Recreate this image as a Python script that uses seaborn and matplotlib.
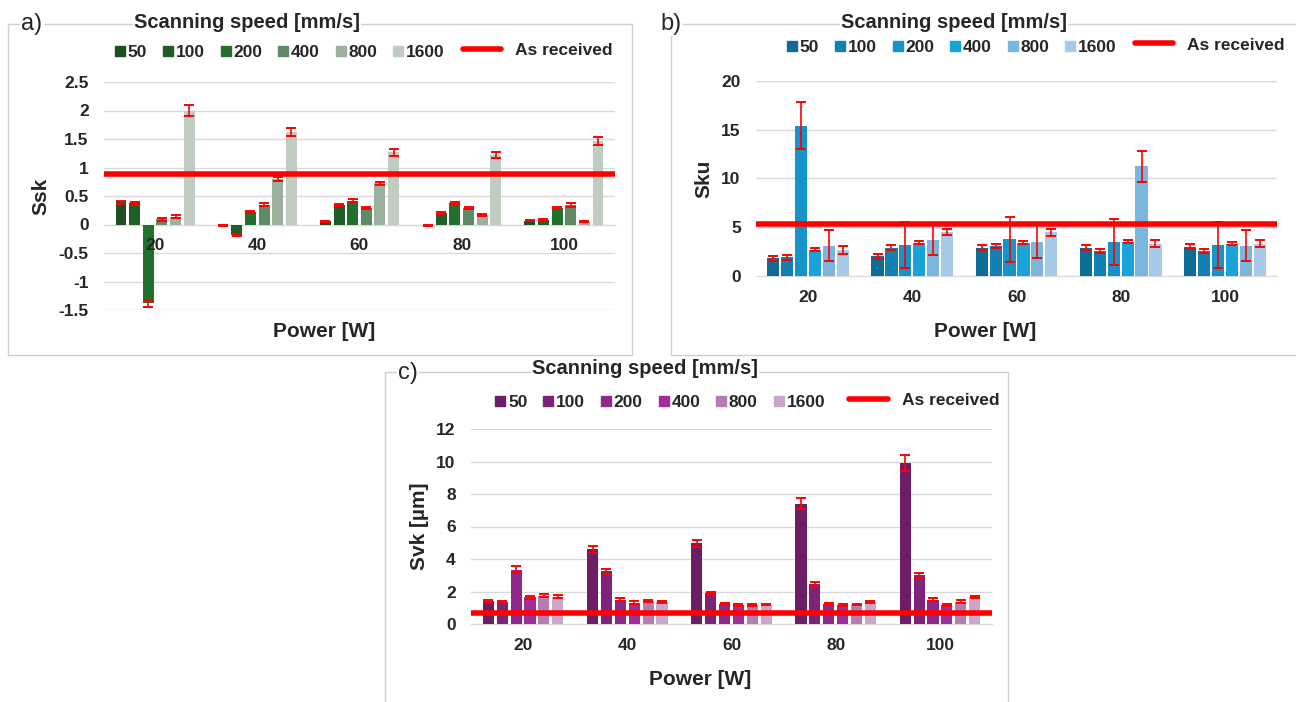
import pandas as pd
import seaborn as sns
import matplotlib.pyplot as plt
from matplotlib.lines import Line2D
from matplotlib.patches import Rectangle

power = [20, 40, 60, 80, 100]
speeds = ['50', '100', '200', '400', '800', '1600']

# rows = power, columns = scanning speed
ssk = [[0.39, 0.37, -1.38, 0.09, 0.14, 2.00],
       [-0.01, -0.19, 0.22, 0.35, 0.80, 1.62],
       [0.06, 0.34, 0.42, 0.29, 0.72, 1.27],
       [-0.01, 0.20, 0.37, 0.29, 0.17, 1.22],
       [0.07, 0.08, 0.29, 0.34, 0.05, 1.46]]
ssk_err = [[0.03, 0.03, 0.06, 0.02, 0.02, 0.09],
           [0.01, 0.02, 0.02, 0.02, 0.03, 0.07],
           [0.01, 0.02, 0.02, 0.02, 0.03, 0.06],
           [0.01, 0.02, 0.03, 0.02, 0.02, 0.05],
           [0.01, 0.01, 0.02, 0.03, 0.01, 0.07]]
ssk_ref = 0.89

sku = [[1.8, 1.9, 15.4, 2.7, 3.1, 2.7],
       [2.0, 2.9, 3.2, 3.4, 3.7, 4.5],
       [2.9, 3.1, 3.75, 3.4, 3.5, 4.5],
       [2.9, 2.6, 3.5, 3.5, 11.25, 3.3],
       [3.0, 2.6, 3.2, 3.3, 3.1, 3.3]]
sku_err = [[0.3, 0.25, 2.4, 0.15, 1.6, 0.4],
           [0.25, 0.25, 2.35, 0.15, 1.55, 0.3],
           [0.25, 0.2, 2.35, 0.15, 1.7, 0.35],
           [0.25, 0.2, 2.35, 0.15, 1.6, 0.35],
           [0.25, 0.2, 2.35, 0.15, 1.6, 0.35]]
sku_ref = 5.3

svk = [[1.42, 1.37, 3.35, 1.65, 1.75, 1.68],
       [4.6, 3.25, 1.5, 1.32, 1.42, 1.37],
       [4.98, 1.9, 1.25, 1.17, 1.17, 1.2],
       [7.4, 2.45, 1.25, 1.17, 1.2, 1.35],
       [9.9, 3.0, 1.5, 1.17, 1.37, 1.67]]
svk_err = [[0.08, 0.07, 0.2, 0.1, 0.08, 0.1],
           [0.2, 0.15, 0.1, 0.07, 0.08, 0.07],
           [0.22, 0.1, 0.05, 0.05, 0.05, 0.05],
           [0.35, 0.12, 0.05, 0.08, 0.05, 0.07],
           [0.5, 0.15, 0.07, 0.05, 0.08, 0.08]]
svk_ref = 0.7

greens = ['#1c4f22', '#1f5f27', '#21702e', '#5e8a66', '#9bb09d', '#c0cbc1']
blues = ['#0f6c94', '#1181b4', '#1693c9', '#18a3d9', '#7ab6de', '#a5c9e6']
purples = ['#6b1e66', '#7e2379', '#8f288a', '#a02d9b', '#b77db2', '#cba6c8']

sns.set_style('white')
plt.rcParams['font.family'] = ['Liberation Sans', 'DejaVu Sans']
plt.rcParams['font.weight'] = 'bold'
plt.rcParams['axes.unicode_minus'] = False

fig = plt.figure(figsize=(12.96, 7.02), dpi=100)
W, H = 1296, 702


def px_axes(x0, y0, x1, y1):
    return fig.add_axes([x0 / W, 1 - y1 / H, (x1 - x0) / W, (y1 - y0) / H])


def panel_box(x0, y0, x1, y1):
    fig.patches.append(Rectangle((x0 / W, 1 - y1 / H), (x1 - x0) / W, (y1 - y0) / H,
                                 transform=fig.transFigure, fill=False,
                                 edgecolor='#d0d0d0', lw=1.0, zorder=-1))


def draw_panel(ax, vals, errs, ref, colors, ylabel, ylim, yticks, gap, pos):
    rows = []
    for i, p in enumerate(power):
        for j, s in enumerate(speeds):
            rows.append({'Power': str(p), 'Speed': s, 'val': vals[i][j], 'err': errs[i][j]})
    df = pd.DataFrame(rows)
    sns.barplot(data=df, x='Power', y='val', hue='Speed', hue_order=speeds,
                palette=colors, saturation=1, errorbar=None, width=0.8, gap=gap,
                linewidth=0, edgecolor='none', ax=ax, legend=False, zorder=2)
    bar_groups = list(ax.containers)
    for j, cont in enumerate(bar_groups):
        sub = df[df['Speed'] == speeds[j]]
        xs = [b.get_x() + b.get_width() / 2 for b in cont]
        ax.errorbar(xs, sub['val'], yerr=sub['err'], fmt='none', ecolor='red',
                    elinewidth=1.2, capsize=3.5, capthick=1.4, zorder=3)
    ax.axhline(ref, color='red', lw=4, zorder=4)
    ax.set_xlim(-0.5, len(power) - 0.5)
    ax.set_ylim(*ylim)
    ax.set_yticks(yticks)
    ax.set_yticklabels([f'{v:g}' for v in yticks])
    ax.grid(axis='y', color='#d9d9d9', lw=1)
    ax.set_axisbelow(True)
    ax.xaxis.set_zorder(5)
    for side in ['left', 'right', 'top']:
        ax.spines[side].set_visible(False)
    ax.spines['bottom'].set_position(('data', 0))
    ax.spines['bottom'].set_color('#d9d9d9')
    ax.spines['bottom'].set_zorder(1)
    ax.tick_params(axis='both', length=0, labelsize=12.5)
    ax.tick_params(axis='x', pad=10)
    ax.tick_params(axis='y', pad=11)
    ax.set_xlabel('Power [W]', fontsize=15, fontweight='bold')
    ax.set_ylabel(ylabel, fontsize=15, fontweight='bold')
    ax.xaxis.set_label_coords(pos['xl'][0], pos['xl'][1])
    ax.yaxis.set_label_coords(pos['yl'][0], pos['yl'][1])

    ax.text(pos['title'][0], pos['title'][1], 'Scanning speed [mm/s]', transform=ax.transAxes,
            ha='center', va='center', fontsize=14.5, fontweight='bold',
            bbox=dict(facecolor='white', edgecolor='none', pad=1))
    handles = [Line2D([], [], marker='s', ls='none', color=c, markersize=7.5) for c in colors]
    leg1 = ax.legend(handles, speeds, loc='center', bbox_to_anchor=pos['leg1'], ncol=6,
                     frameon=False, fontsize=12.5, handlelength=0.6, handletextpad=0.15,
                     columnspacing=0.9, borderaxespad=0)
    ax.add_artist(leg1)
    ax.legend([Line2D([], [], color='red', lw=4)], ['As received'], loc='center',
              bbox_to_anchor=pos['leg2'], frameon=False, fontsize=12.5,
              handlelength=2.2, handletextpad=0.8, borderaxespad=0)


# panel a
panel_box(8, 24, 632, 355)
ax_a = px_axes(104, 82, 615, 310)
draw_panel(ax_a, ssk, ssk_err, ssk_ref, greens, 'Ssk', (-1.5, 2.5),
           [-1.5, -1, -0.5, 0, 0.5, 1, 1.5, 2, 2.5], 0.2,
           {'xl': (0.43, -0.053), 'yl': (-0.105, 0.5), 'title': (0.28, 1.26),
            'leg1': (0.344, 1.13), 'leg2': (0.848, 1.14)})
fig.text(32 / W, 1 - 24 / H, 'a)', fontsize=17, fontweight='normal', ha='center', va='center',
         bbox=dict(facecolor='white', edgecolor='none', pad=1))

# panel b
panel_box(671, 24, 1300, 355)
ax_b = px_axes(756, 81, 1277, 276)
draw_panel(ax_b, sku, sku_err, sku_ref, blues, 'Sku', (0, 20), [0, 5, 10, 15, 20], 0.12,
           {'xl': (0.44, -0.236), 'yl': (-0.081, 0.5), 'title': (0.38, 1.30),
            'leg1': (0.376, 1.17), 'leg2': (0.871, 1.185)})
fig.text(671 / W, 1 - 24 / H, 'b)', fontsize=17, fontweight='normal', ha='center', va='center',
         bbox=dict(facecolor='white', edgecolor='none', pad=1))

# panel c
panel_box(385, 372, 1008, 710)
ax_c = px_axes(471, 429, 992, 624)
draw_panel(ax_c, svk, svk_err, svk_ref, purples, 'Svk [µm]', (0, 12),
           [0, 2, 4, 6, 8, 10, 12], 0.2,
           {'xl': (0.44, -0.236), 'yl': (-0.081, 0.5), 'title': (0.334, 1.31),
            'leg1': (0.363, 1.138), 'leg2': (0.87, 1.144)})
fig.text(408 / W, 1 - 373 / H, 'c)', fontsize=17, fontweight='normal', ha='center', va='center',
         bbox=dict(facecolor='white', edgecolor='none', pad=1))

fig.savefig('out.png', dpi=100, facecolor='white')
